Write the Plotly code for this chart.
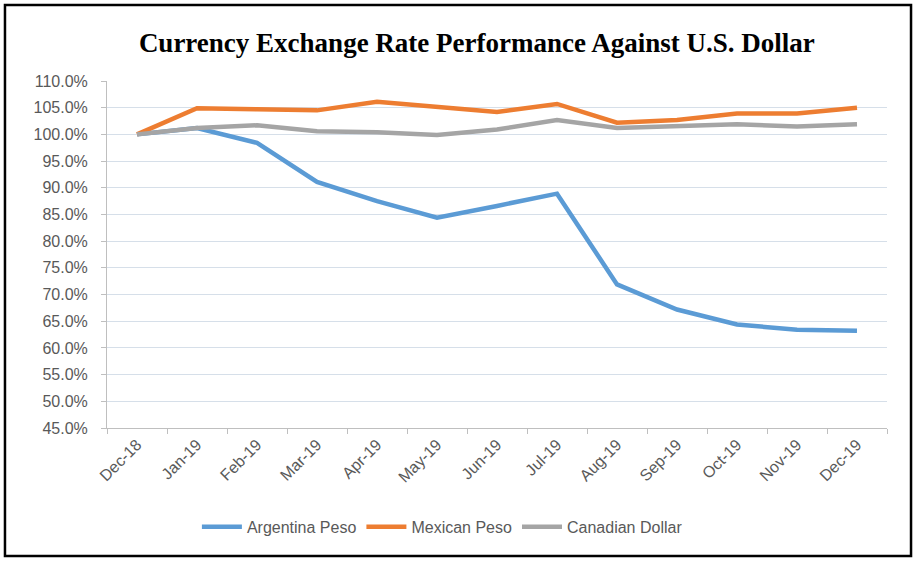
import plotly.graph_objects as go

months = ["Dec-18", "Jan-19", "Feb-19", "Mar-19", "Apr-19", "May-19", "Jun-19",
          "Jul-19", "Aug-19", "Sep-19", "Oct-19", "Nov-19", "Dec-19"]

argentina_peso = [1.000, 1.012, 0.984, 0.911, 0.875, 0.844, 0.866,
                  0.889, 0.719, 0.672, 0.644, 0.634, 0.632]
mexican_peso = [1.000, 1.049, 1.047, 1.045, 1.061, 1.052, 1.042,
                1.057, 1.022, 1.027, 1.039, 1.039, 1.050]
canadian_dollar = [1.000, 1.012, 1.017, 1.006, 1.004, 0.999, 1.009,
                   1.027, 1.012, 1.015, 1.019, 1.015, 1.019]

y_ticks = [0.45 + 0.05 * i for i in range(14)]

series = [
    ("Argentina Peso", argentina_peso, "#5b9bd5"),
    ("Mexican Peso", mexican_peso, "#ed7d31"),
    ("Canadian Dollar", canadian_dollar, "#a5a5a5"),
]

fig = go.Figure()
for name, vals, color in series:
    fig.add_trace(go.Scatter(
        x=months, y=vals, name=name, mode="lines",
        line=dict(color=color, width=4.5),
    ))

axis_font = dict(family="Liberation Sans, Arial, sans-serif", size=16, color="#595959")

fig.update_layout(
    width=917, height=562,
    margin=dict(l=107, r=30, t=81, b=134),
    paper_bgcolor="white", plot_bgcolor="white",
    title=dict(
        text="<b>Currency Exchange Rate Performance Against U.S. Dollar</b>",
        font=dict(family="Liberation Serif, Times New Roman, serif", size=27, color="black"),
        x=0.52, xanchor="center", y=0.925, yanchor="middle",
    ),
    showlegend=True,
    legend=dict(
        orientation="h", x=0.43, xanchor="center", y=-0.285, yanchor="middle",
        font=axis_font, itemwidth=40, tracegroupgap=0,
    ),
    xaxis=dict(
        type="category", range=[-0.5, 12.5], tickangle=-45,
        tickson="boundaries", ticks="outside", ticklen=5, tickcolor="#bfbfbf",
        showline=True, linecolor="#bfbfbf", linewidth=1,
        showgrid=False, tickfont=axis_font,
    ),
    yaxis=dict(
        range=[0.45, 1.10], tickvals=y_ticks, tickformat=".1%",
        ticks="outside", ticklen=5, tickcolor="#bfbfbf",
        showline=True, linecolor="#bfbfbf", linewidth=1,
        showgrid=True, gridcolor="#d6dfe9", gridwidth=1,
        tickfont=axis_font, zeroline=False, ticklabelstandoff=10,
    ),
    shapes=[dict(
        type="rect", xref="paper", yref="paper",
        x0=-0.1308, x1=1.0308, y0=-0.369, y1=1.219,
        line=dict(color="black", width=2.5), fillcolor="rgba(0,0,0,0)",
    )],
)

# page body has a default 8px margin; drop it so the figure fills the window
fig.write_html("out.html", config={"displayModeBar": False},
               post_script="document.body.style.margin='0';")
